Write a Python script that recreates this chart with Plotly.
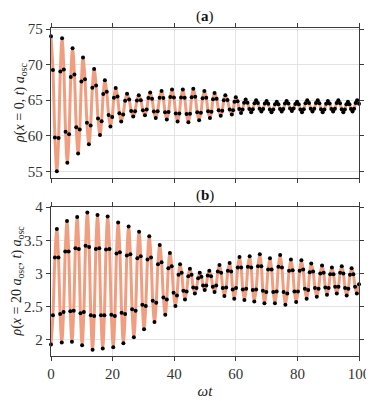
import plotly.graph_objects as go
from plotly.subplots import make_subplots

# panel (a): density at the trap centre
t_a = [0.0, 0.63, 1.27, 1.9, 2.47, 3.03, 3.6, 4.17, 4.73, 5.3, 5.87, 6.43,
       7.0, 7.6, 8.2, 8.8, 9.33, 9.87, 10.4, 11.03, 11.67, 12.3, 12.87, 13.43,
       14.0, 14.63, 15.27, 15.9, 16.43, 16.97, 17.5, 18.1, 18.7, 19.3, 19.87, 20.43,
       21.0, 21.6, 22.2, 22.8, 23.43, 24.07, 24.7, 25.37, 26.03, 26.7, 27.3, 27.9,
       28.5, 29.17, 29.83, 30.5, 31.07, 31.63, 32.2, 32.8, 33.4, 34.0, 34.63, 35.27,
       35.9, 36.47, 37.03, 37.6, 38.17, 38.73, 39.3, 39.9, 40.5, 41.1, 41.67, 42.23,
       42.8, 43.4, 44.0, 44.6, 45.13, 45.67, 46.2, 46.83, 47.47, 48.1, 48.67, 49.23,
       49.8, 50.4, 51.0, 51.6, 52.1, 52.6, 53.1, 53.77, 54.43, 55.1, 55.6, 56.1,
       56.6, 57.3, 58.0, 58.7, 59.13, 59.57, 60.0, 60.57, 61.13, 61.7, 62.2, 62.7,
       63.2, 63.8, 64.4, 65.0, 65.53, 66.07, 66.6, 67.17, 67.73, 68.3, 68.87, 69.43,
       70.0, 70.53, 71.07, 71.6, 72.17, 72.73, 73.3, 73.83, 74.37, 74.9, 75.43, 75.97,
       76.5, 77.07, 77.63, 78.2, 78.77, 79.33, 79.9, 80.43, 80.97, 81.5, 82.07, 82.63,
       83.2, 83.77, 84.33, 84.9, 85.47, 86.03, 86.6, 87.13, 87.67, 88.2, 88.77, 89.33,
       89.9, 90.47, 91.03, 91.6, 92.17, 92.73, 93.3, 93.83, 94.37, 94.9, 95.4, 95.9,
       96.4, 96.9, 97.4, 97.9, 98.4, 98.9, 99.4, 100.0]
rho_a = [74.0, 69.25, 59.75, 55.0, 59.68, 69.03, 73.7, 69.33, 60.58, 56.2, 60.23, 68.28,
         72.3, 68.6, 61.2, 57.5, 60.88, 67.63, 71.0, 67.95, 61.85, 58.8, 61.45, 66.75,
         69.4, 67.08, 62.43, 60.1, 62.03, 65.88, 67.8, 66.18, 62.93, 61.3, 62.65, 65.35,
         66.7, 65.53, 63.18, 62.0, 62.98, 64.93, 65.9, 65.1, 63.5, 62.7, 63.45, 64.95,
         65.7, 65.0, 63.6, 62.9, 63.7, 65.3, 66.1, 65.2, 63.4, 62.5, 63.45, 65.35,
         66.3, 65.3, 63.3, 62.3, 63.35, 65.45, 66.5, 65.38, 63.13, 62.0, 63.13, 65.38,
         66.5, 65.35, 63.05, 61.9, 63.08, 65.43, 66.6, 65.5, 63.3, 62.2, 63.23, 65.28,
         66.3, 65.35, 63.45, 62.5, 63.38, 65.13, 66.0, 65.2, 63.6, 62.8, 63.53, 64.98,
         65.7, 65.03, 63.68, 63.0, 63.6, 64.8, 65.4, 64.85, 63.75, 63.2, 63.68, 64.63,
         65.1, 64.65, 63.75, 63.3, 63.73, 64.58, 65.0, 64.6, 63.8, 63.4, 63.78, 64.53,
         64.9, 64.5, 63.7, 63.3, 63.68, 64.43, 64.8, 64.45, 63.75, 63.4, 63.78, 64.53,
         64.9, 64.55, 63.85, 63.5, 63.83, 64.48, 64.8, 64.43, 63.68, 63.3, 63.73, 64.58,
         65.0, 64.6, 63.8, 63.4, 63.8, 64.6, 65.0, 64.58, 63.73, 63.3, 63.7, 64.5,
         64.9, 64.53, 63.78, 63.4, 63.8, 64.6, 65.0, 64.58, 63.73, 63.3, 63.68, 64.43,
         64.8, 64.45, 63.75, 63.4, 63.8, 64.6, 65.0, 64.5]

# panel (b): density at x = 20 a_osc
t_b = [0.0, 0.63, 1.27, 1.9, 2.43, 2.97, 3.5, 4.07, 4.63, 5.2, 5.73, 6.27,
       6.8, 7.37, 7.93, 8.5, 9.03, 9.57, 10.1, 10.67, 11.23, 11.8, 12.37, 12.93,
       13.5, 14.03, 14.57, 15.1, 15.67, 16.23, 16.8, 17.33, 17.87, 18.4, 19.0, 19.6,
       20.2, 20.73, 21.27, 21.8, 22.37, 22.93, 23.5, 24.07, 24.63, 25.2, 25.77, 26.33,
       26.9, 27.47, 28.03, 28.6, 29.13, 29.67, 30.2, 30.77, 31.33, 31.9, 32.47, 33.03,
       33.6, 34.17, 34.73, 35.3, 35.9, 36.5, 37.1, 37.6, 38.1, 38.6, 39.2, 39.8,
       40.4, 40.9, 41.4, 41.9, 42.43, 42.97, 43.5, 44.03, 44.57, 45.1, 45.63, 46.17,
       46.7, 47.23, 47.77, 48.3, 48.83, 49.37, 49.9, 50.4, 50.9, 51.4, 51.97, 52.53,
       53.1, 53.63, 54.17, 54.7, 55.23, 55.77, 56.3, 56.87, 57.43, 58.0, 58.5, 59.0,
       59.5, 60.07, 60.63, 61.2, 61.73, 62.27, 62.8, 63.37, 63.93, 64.5, 65.0, 65.5,
       66.0, 66.6, 67.2, 67.8, 68.3, 68.8, 69.3, 69.9, 70.5, 71.1, 71.63, 72.17,
       72.7, 73.27, 73.83, 74.4, 74.97, 75.53, 76.1, 76.7, 77.3, 77.9, 78.47, 79.03,
       79.6, 80.17, 80.73, 81.3, 81.87, 82.43, 83.0, 83.5, 84.0, 84.5, 85.1, 85.7,
       86.3, 86.87, 87.43, 88.0, 88.53, 89.07, 89.6, 90.13, 90.67, 91.2, 91.73, 92.27,
       92.8, 93.33, 93.87, 94.4, 94.93, 95.47, 96.0, 96.53, 97.07, 97.6, 98.17, 98.73,
       99.3, 100.0]
rho_b = [1.93, 2.37, 3.24, 3.67, 3.24, 2.39, 1.96, 2.42, 3.33, 3.79, 3.33, 2.43,
         1.97, 2.44, 3.38, 3.85, 3.37, 2.40, 1.92, 2.42, 3.42, 3.92, 3.40, 2.37,
         1.85, 2.36, 3.37, 3.88, 3.38, 2.37, 1.87, 2.37, 3.36, 3.86, 3.37, 2.38,
         1.89, 2.36, 3.30, 3.77, 3.32, 2.41, 1.95, 2.39, 3.27, 3.71, 3.29, 2.46,
         2.04, 2.44, 3.23, 3.63, 3.26, 2.53, 2.16, 2.51, 3.21, 3.56, 3.24, 2.59,
         2.27, 2.56, 3.14, 3.43, 3.17, 2.64, 2.38, 2.61, 3.08, 3.31, 3.11, 2.71,
         2.51, 2.67, 2.98, 3.14, 3.01, 2.74, 2.61, 2.73, 2.96, 3.07, 2.98, 2.79,
         2.70, 2.78, 2.93, 3.01, 2.95, 2.82, 2.75, 2.82, 2.97, 3.04, 2.96, 2.80,
         2.72, 2.82, 3.03, 3.13, 3.01, 2.78, 2.66, 2.79, 3.04, 3.16, 3.03, 2.76,
         2.62, 2.78, 3.09, 3.25, 3.09, 2.76, 2.60, 2.77, 3.10, 3.26, 3.09, 2.75,
         2.58, 2.76, 3.11, 3.29, 3.11, 2.74, 2.55, 2.72, 3.06, 3.23, 3.06, 2.72,
         2.55, 2.73, 3.10, 3.28, 3.09, 2.72, 2.53, 2.70, 3.04, 3.21, 3.05, 2.73,
         2.57, 2.73, 3.04, 3.20, 3.06, 2.77, 2.62, 2.75, 3.02, 3.15, 3.03, 2.78,
         2.65, 2.77, 3.00, 3.12, 3.01, 2.79, 2.68, 2.78, 2.99, 3.09, 2.99, 2.80,
         2.70, 2.80, 3.01, 3.11, 3.00, 2.78, 2.67, 2.77, 2.98, 3.08, 2.99, 2.80,
         2.70, 2.84]

assert len(t_a) == len(rho_a), (len(t_a), len(rho_a))
assert len(t_b) == len(rho_b), (len(t_b), len(rho_b))

xticks = [0, 20, 40, 60, 80, 100]
yticks_a = [55, 60, 65, 70, 75]
yticks_b = [2, 2.5, 3, 3.5, 4]

SALMON = "rgb(241,158,128)"
FRAME = "#3c3c3c"
FONT = "Liberation Serif"

fig = make_subplots(rows=2, cols=1)

for row, (t, rho) in enumerate([(t_a, rho_a), (t_b, rho_b)], start=1):
    fig.add_trace(go.Scatter(
        x=t, y=rho, mode="lines",
        line=dict(color=SALMON, width=3, shape="spline", smoothing=1),
        hoverinfo="skip", showlegend=False), row=row, col=1)
    fig.add_trace(go.Scatter(
        x=t, y=rho, mode="markers",
        marker=dict(color="black", size=4),
        cliponaxis=False, showlegend=False), row=row, col=1)

axis_style = dict(
    showline=True, linecolor=FRAME, linewidth=1.3, mirror="ticks",
    ticks="outside", ticklen=4, tickcolor=FRAME, tickwidth=1,
    showgrid=True, gridcolor="#e3e3e3", gridwidth=1, zeroline=False,
    tickfont=dict(family=FONT, size=15, color="#333"),
)

fig.update_xaxes(axis_style)
fig.update_yaxes(axis_style)

fig.update_layout(
    width=374, height=401,
    margin=dict(l=43, r=17, t=17, b=38),
    paper_bgcolor="white", plot_bgcolor="white",
    font=dict(family=FONT, size=15, color="#222"),
    xaxis=dict(domain=[0, 1], range=[0, 100], tickvals=xticks, showticklabels=False),
    xaxis2=dict(domain=[0, 1], range=[0, 100], tickvals=xticks,
                title=dict(text="<i>ωt</i>", standoff=4,
                           font=dict(family=FONT, size=15))),
    yaxis=dict(domain=[0.5434, 1], range=[54.1, 75.15], tickvals=yticks_a),
    yaxis2=dict(domain=[0, 0.4538], range=[1.757, 4.0], tickvals=yticks_b),
)

# panel titles and y labels
fig.add_annotation(text="(<b>a</b>)", x=0.5, y=1, xref="paper", yref="paper",
                   xanchor="center", yanchor="bottom", yshift=1, showarrow=False,
                   font=dict(family=FONT, size=15, color="#111"))
fig.add_annotation(text="(<b>b</b>)", x=0.5, y=0.4538, xref="paper", yref="paper",
                   xanchor="center", yanchor="bottom", yshift=1, showarrow=False,
                   font=dict(family=FONT, size=15, color="#111"))
fig.add_annotation(text="<i>ρ</i>(<i>x</i> = 0, <i>t</i>) <i>a</i><sub>osc</sub>",
                   x=0, y=(0.5434 + 1) / 2, xref="paper", yref="paper",
                   xanchor="center", yanchor="middle", xshift=-30, textangle=-90,
                   showarrow=False, font=dict(family=FONT, size=14, color="#222"))
fig.add_annotation(text="<i>ρ</i>(<i>x</i> = 20 <i>a</i><sub>osc</sub>, <i>t</i>) <i>a</i><sub>osc</sub>",
                   x=0, y=0.4538 / 2, xref="paper", yref="paper",
                   xanchor="center", yanchor="middle", xshift=-33, textangle=-90,
                   showarrow=False, font=dict(family=FONT, size=14, color="#222"))

fig.write_html("out.html")
